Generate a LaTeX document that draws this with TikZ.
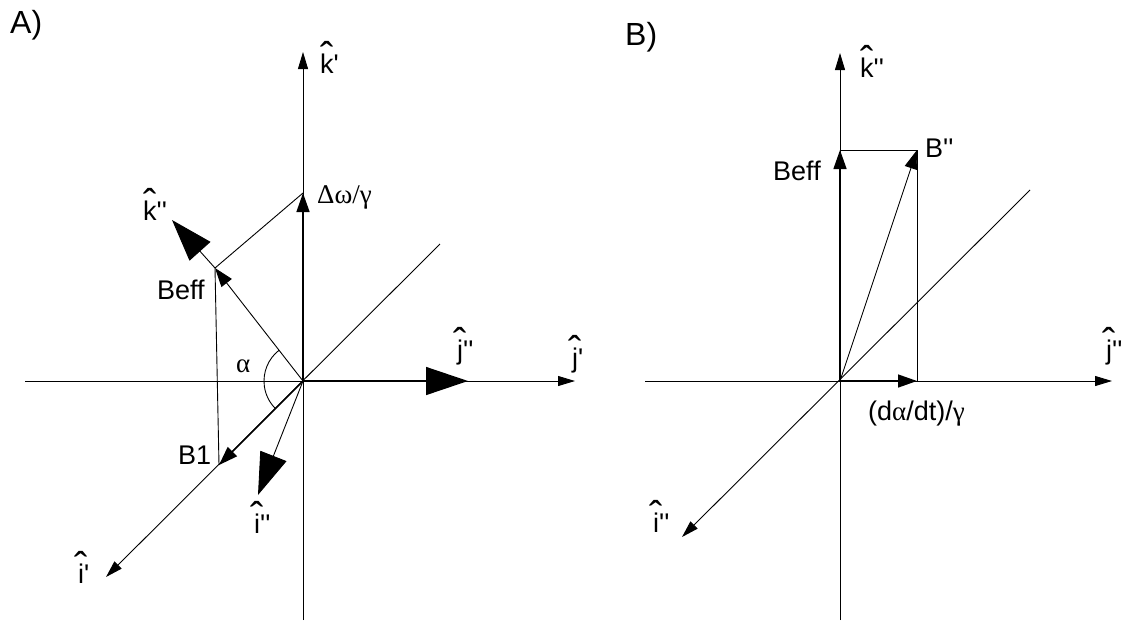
\documentclass[tikz,border=0pt]{standalone}
\usepackage{fontspec}
\newfontfamily\lsans{Liberation Sans}
\newfontfamily\seriff{Liberation Serif}
\usetikzlibrary{arrows.meta,calc}
\newcommand\hatlab[2]{\setbox0\hbox{#1}\rlap{\hbox to\wd0{\hss\raisebox{3pt}{\fontsize{40}{40}\selectfont\char"02C6}\hss}}\box0#2}
\newcommand\gk[1]{{\seriff #1}}
\begin{document}
\begin{tikzpicture}[x=1pt,y=-1pt,
 ax/.style={line width=0.9pt,-{Triangle[length=17pt,width=10pt]}},
 plain/.style={line width=0.9pt},
 vecm/.style={line width=1.4pt,-{Triangle[length=19pt,width=13pt]}},
 vecb/.style={line width=1.4pt,-{Triangle[length=42pt,width=28pt]}},
 thin/.style={line width=0.9pt},
 lbl/.style={inner sep=0pt,anchor=base west,font=\lsans\fontsize{27}{30}\selectfont},
 ttl/.style={inner sep=0pt,anchor=base west,font=\lsans\fontsize{32}{36}\selectfont}]
\useasboundingbox (0,0) rectangle (1123,630);
% ---------- Panel A ----------
\coordinate (OA) at (303,381);
\coordinate (Atop) at (303,52);
\coordinate (Abot) at (303,620);
\coordinate (Aleft) at (25,381);
\coordinate (Aright) at (575,381);
\coordinate (Ane) at (440,244);
\coordinate (Asw) at (106,577);
\coordinate (Adw) at (303,193);
\coordinate (ABe) at (215,268);
\coordinate (AB1) at (219,465);
\coordinate (Akpp) at (172,220);
\coordinate (Ajpp) at (468,381);
\coordinate (Aipp) at (258,495);
\draw[ax] (Aleft) -- (Aright);
\draw[ax] (Abot) -- (Atop);
\draw[ax] (Ane) -- (Asw);
\draw[vecm] (OA) -- (Adw);
\draw[plain] (Adw) -- (ABe);
\draw[vecm,thin] (OA) -- (ABe);
\draw[vecb,thin] (ABe) -- (Akpp);
\draw[plain] (ABe) -- (AB1);
\draw[vecm] (OA) -- (AB1);
\draw[vecb] (OA) -- (Ajpp);
\draw[vecb,thin] (OA) -- (Aipp);
\draw[plain] ($(OA)+(127.6:39pt)$) arc[start angle=127.6,end angle=224.7,radius=39pt];
\node[ttl] (tA) at (10,33) {A)};
\node[lbl] (lkp) at (320,73) {\hatlab{k}{'}};
\node[lbl] (ldw) at (317,203) {\gk{Δω/γ}};
\node[lbl] (lkpp) at (143,220) {\hatlab{k}{''}};
\node[lbl] (lBeA) at (157,299) {Beff};
\node[lbl] (lal) at (236,372) {\gk{α}};
\node[lbl] (lB1) at (178,464) {B1};
\node[lbl] (lipp) at (254,533) {\hatlab{i}{''}};
\node[lbl] (ljpp) at (457,359) {\hatlab{j}{''}};
\node[lbl] (ljp) at (572,367) {\hatlab{j}{'}};
\node[lbl] (lip) at (78,583) {\hatlab{i}{'}};
% ---------- Panel B ----------
\coordinate (OB) at (840,381);
\coordinate (Btop) at (840,53);
\coordinate (Bbot) at (840,620);
\coordinate (Bleft) at (645,381);
\coordinate (Bright) at (1112,381);
\coordinate (Bne) at (1030,190);
\coordinate (Bsw) at (682,537);
\coordinate (BBe) at (840,150);
\coordinate (BBpp) at (917,150);
\coordinate (Bda) at (917,381);
\draw[ax] (Bleft) -- (Bright);
\draw[ax] (Bbot) -- (Btop);
\draw[ax] (Bne) -- (Bsw);
\draw[vecm] (OB) -- (BBe);
\draw[plain] (BBe) -- (BBpp) -- (Bda);
\draw[vecm,thin] (OB) -- (BBpp);
\draw[vecm] (OB) -- (Bda);
\node[ttl] (tB) at (625,45) {B)};
\node[lbl] (lkppB) at (860,77) {\hatlab{k}{''}};
\node[lbl] (lBeB) at (773,180) {Beff};
\node[lbl] (lBpp) at (925,157) {B''};
\node[lbl] (lda) at (868,420) {(d\gk{α}/dt)/\gk{γ}};
\node[lbl] (ljppB) at (1106,359) {\hatlab{j}{''}};
\node[lbl] (lippB) at (653,532) {\hatlab{i}{''}};
\end{tikzpicture}
\end{document}
